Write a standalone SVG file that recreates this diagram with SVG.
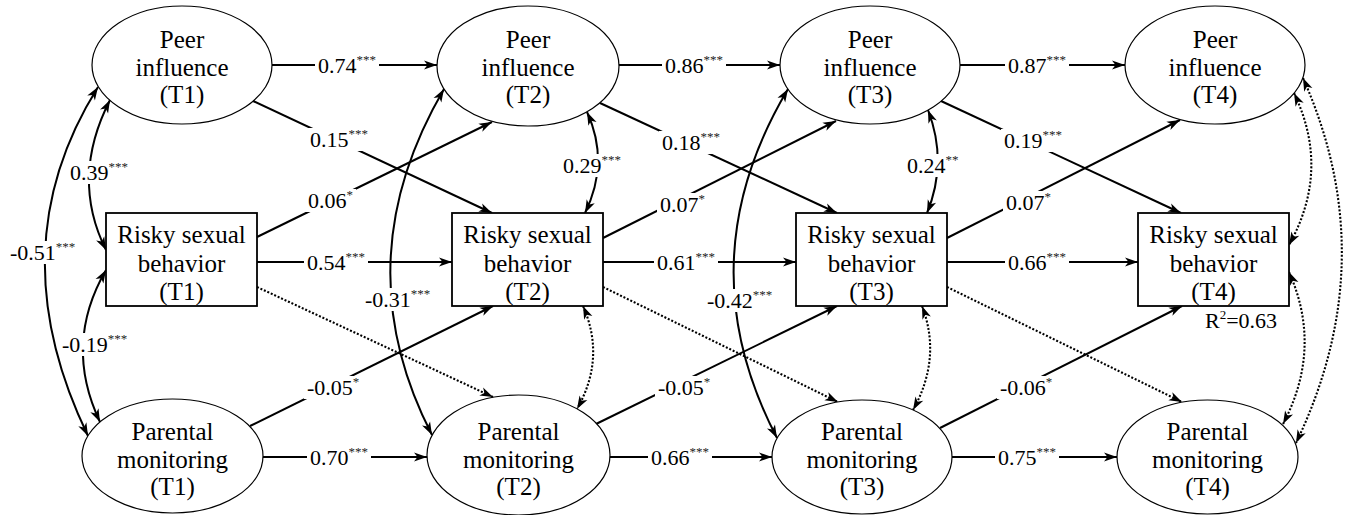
<svg xmlns="http://www.w3.org/2000/svg" width="1345" height="515" viewBox="0 0 1345 515" font-family="'Liberation Serif', 'Times New Roman', Times, 'DejaVu Serif', serif">
<style>
.nd ellipse{fill:#fff;stroke:#000;stroke-width:1.2}
.nd rect{fill:#fff;stroke:#000;stroke-width:1.8}
.nt{font-family:'Liberation Serif','Times New Roman',Times,'DejaVu Serif',serif;font-size:25px;text-anchor:middle;fill:#000}
.e{fill:none;stroke:#000;stroke-width:2;marker-end:url(#ah)}
.c{marker-start:url(#ah)}
.d{stroke-dasharray:2 1.8;stroke-width:2.1}
.bg{fill:#fff}
.lt{font-family:'Liberation Serif','Times New Roman',Times,'DejaVu Serif',serif;font-size:22px;fill:#000}
.sup{font-size:13px;fill:#222}
</style>
<defs>
<marker id="ah" viewBox="-14 -6 16 12" refX="0" refY="0" markerWidth="16" markerHeight="12" markerUnits="userSpaceOnUse" orient="auto-start-reverse">
<path d="M0,0 L-13,-4.5 L-9.5,0 L-13,4.5 Z" fill="#000"/>
</marker>
</defs>

<g id="connectors">
<path class="e" d="M272,65 H437"/>
<path class="e" d="M619,65 H780"/>
<path class="e" d="M960,65 H1125"/>
<path class="e" d="M257,262 H452"/>
<path class="e" d="M603,262 H796"/>
<path class="e" d="M947,262 H1138"/>
<path class="e" d="M263,457 H427"/>
<path class="e" d="M610,457 H772"/>
<path class="e" d="M952,457 H1117"/>
<path class="e" d="M253,101 L492,213"/>
<path class="e" d="M257,237 L492,122"/>
<path class="e" d="M250,426 L493,306"/>
<path class="e" d="M600,103 L837,213"/>
<path class="e" d="M603,238 L836,121"/>
<path class="e" d="M596,424 L837,306"/>
<path class="e" d="M941,101 L1181,213"/>
<path class="e" d="M947,238 L1180,120"/>
<path class="e" d="M940,428 L1182,306"/>
<path class="e d" d="M257,287 L493,397"/>
<path class="e d" d="M603,287 L838,402"/>
<path class="e d" d="M947,287 L1182,402"/>
<path class="e c" d="M98,87 Q-3,248 88,436"/>
<path class="e c" d="M110,100 Q70,178 106,250"/>
<path class="e c" d="M106,270 Q63,344 100,422"/>
<path class="e c" d="M444,89 Q343,262 432,435"/>
<path class="e c" d="M587,112 Q610,162 585,213"/>
<path class="e c d" d="M583,306 Q606,358 577,409"/>
<path class="e c" d="M788,89 Q685,262 777,438"/>
<path class="e c" d="M928,110 Q948,162 927,213"/>
<path class="e c d" d="M922,306 Q942,358 913,410"/>
<path class="e c d" d="M1294,93 Q1331,170 1289,245"/>
<path class="e c d" d="M1303,78 Q1384,260 1296,443"/>
<path class="e c d" d="M1289,272 Q1323,348 1283,424"/>

<rect class="bg" x="315" y="54" width="64" height="23"/><text class="lt" x="318" y="73">0.74<tspan class="sup" dy="-9">***</tspan></text>
<rect class="bg" x="662" y="54" width="64" height="23"/><text class="lt" x="665" y="73">0.86<tspan class="sup" dy="-9">***</tspan></text>
<rect class="bg" x="1005" y="54" width="64" height="23"/><text class="lt" x="1008" y="73">0.87<tspan class="sup" dy="-9">***</tspan></text>
<rect class="bg" x="304" y="251" width="64" height="23"/><text class="lt" x="307" y="270">0.54<tspan class="sup" dy="-9">***</tspan></text>
<rect class="bg" x="654" y="251" width="64" height="23"/><text class="lt" x="657" y="270">0.61<tspan class="sup" dy="-9">***</tspan></text>
<rect class="bg" x="1005" y="251" width="64" height="23"/><text class="lt" x="1008" y="270">0.66<tspan class="sup" dy="-9">***</tspan></text>
<rect class="bg" x="307" y="446" width="64" height="23"/><text class="lt" x="310" y="465">0.70<tspan class="sup" dy="-9">***</tspan></text>
<rect class="bg" x="648" y="446" width="64" height="23"/><text class="lt" x="651" y="465">0.66<tspan class="sup" dy="-9">***</tspan></text>
<rect class="bg" x="995" y="446" width="64" height="23"/><text class="lt" x="998" y="465">0.75<tspan class="sup" dy="-9">***</tspan></text>
<rect class="bg" x="307" y="128" width="64" height="23"/><text class="lt" x="310" y="147">0.15<tspan class="sup" dy="-9">***</tspan></text>
<rect class="bg" x="305" y="189" width="51" height="23"/><text class="lt" x="308" y="208">0.06<tspan class="sup" dy="-9">*</tspan></text>
<rect class="bg" x="304" y="376" width="58" height="23"/><text class="lt" x="307" y="395">-0.05<tspan class="sup" dy="-9">*</tspan></text>
<rect class="bg" x="659" y="131" width="64" height="23"/><text class="lt" x="662" y="150">0.18<tspan class="sup" dy="-9">***</tspan></text>
<rect class="bg" x="657" y="193" width="51" height="23"/><text class="lt" x="660" y="212">0.07<tspan class="sup" dy="-9">*</tspan></text>
<rect class="bg" x="655" y="376" width="58" height="23"/><text class="lt" x="658" y="395">-0.05<tspan class="sup" dy="-9">*</tspan></text>
<rect class="bg" x="1001" y="129" width="64" height="23"/><text class="lt" x="1004" y="148">0.19<tspan class="sup" dy="-9">***</tspan></text>
<rect class="bg" x="1003" y="191" width="51" height="23"/><text class="lt" x="1006" y="210">0.07<tspan class="sup" dy="-9">*</tspan></text>
<rect class="bg" x="997" y="376" width="58" height="23"/><text class="lt" x="1000" y="395">-0.06<tspan class="sup" dy="-9">*</tspan></text>
<rect class="bg" x="67" y="161" width="64" height="23"/><text class="lt" x="70" y="180">0.39<tspan class="sup" dy="-9">***</tspan></text>
<rect class="bg" x="7" y="241" width="71" height="23"/><text class="lt" x="10" y="260">-0.51<tspan class="sup" dy="-9">***</tspan></text>
<rect class="bg" x="59" y="333" width="71" height="23"/><text class="lt" x="62" y="352">-0.19<tspan class="sup" dy="-9">***</tspan></text>
<rect class="bg" x="362" y="288" width="71" height="23"/><text class="lt" x="365" y="307">-0.31<tspan class="sup" dy="-9">***</tspan></text>
<rect class="bg" x="560" y="154" width="64" height="23"/><text class="lt" x="563" y="173">0.29<tspan class="sup" dy="-9">***</tspan></text>
<rect class="bg" x="704" y="289" width="71" height="23"/><text class="lt" x="707" y="308">-0.42<tspan class="sup" dy="-9">***</tspan></text>
<rect class="bg" x="904" y="154" width="58" height="23"/><text class="lt" x="907" y="173">0.24<tspan class="sup" dy="-9">**</tspan></text>
<text class="lt" x="1205" y="328">R<tspan class="sup" dy="-9" style="fill:#000">2</tspan><tspan dy="9">=0.63</tspan></text>
</g>

<g id="peer_t1" class="nd"><ellipse cx="182" cy="65" rx="90" ry="59"/>
<text class="nt" x="182" y="48">Peer</text><text class="nt" x="182" y="76">influence</text><text class="nt" x="182" y="103">(T1)</text></g>
<g id="peer_t2" class="nd"><ellipse cx="528" cy="66" rx="91" ry="60"/>
<text class="nt" x="528" y="48">Peer</text><text class="nt" x="528" y="76">influence</text><text class="nt" x="528" y="103">(T2)</text></g>
<g id="peer_t3" class="nd"><ellipse cx="870" cy="65" rx="90" ry="59"/>
<text class="nt" x="870" y="48">Peer</text><text class="nt" x="870" y="76">influence</text><text class="nt" x="870" y="103">(T3)</text></g>
<g id="peer_t4" class="nd"><ellipse cx="1215" cy="65" rx="90" ry="59"/>
<text class="nt" x="1215" y="48">Peer</text><text class="nt" x="1215" y="76">influence</text><text class="nt" x="1215" y="103">(T4)</text></g>

<g id="risky_t1" class="nd"><rect x="106" y="213" width="151" height="93"/>
<text class="nt" x="181.5" y="243">Risky sexual</text><text class="nt" x="181.5" y="272">behavior</text><text class="nt" x="181.5" y="300">(T1)</text></g>
<g id="risky_t2" class="nd"><rect x="452" y="213" width="151" height="93"/>
<text class="nt" x="527.5" y="243">Risky sexual</text><text class="nt" x="527.5" y="272">behavior</text><text class="nt" x="527.5" y="300">(T2)</text></g>
<g id="risky_t3" class="nd"><rect x="796" y="213" width="151" height="93"/>
<text class="nt" x="871.5" y="243">Risky sexual</text><text class="nt" x="871.5" y="272">behavior</text><text class="nt" x="871.5" y="300">(T3)</text></g>
<g id="risky_t4" class="nd"><rect x="1138" y="213" width="151" height="93"/>
<text class="nt" x="1213.5" y="243">Risky sexual</text><text class="nt" x="1213.5" y="272">behavior</text><text class="nt" x="1213.5" y="300">(T4)</text></g>

<g id="parental_t1" class="nd"><ellipse cx="172.5" cy="456" rx="90.5" ry="57"/>
<text class="nt" x="172.5" y="440">Parental</text><text class="nt" x="172.5" y="468">monitoring</text><text class="nt" x="172.5" y="495">(T1)</text></g>
<g id="parental_t2" class="nd"><ellipse cx="518.5" cy="455" rx="91.5" ry="60"/>
<text class="nt" x="518.5" y="440">Parental</text><text class="nt" x="518.5" y="468">monitoring</text><text class="nt" x="518.5" y="495">(T2)</text></g>
<g id="parental_t3" class="nd"><ellipse cx="862" cy="457" rx="90" ry="57"/>
<text class="nt" x="862" y="440">Parental</text><text class="nt" x="862" y="468">monitoring</text><text class="nt" x="862" y="495">(T3)</text></g>
<g id="parental_t4" class="nd"><ellipse cx="1207.5" cy="457" rx="90.5" ry="57"/>
<text class="nt" x="1207.5" y="440">Parental</text><text class="nt" x="1207.5" y="468">monitoring</text><text class="nt" x="1207.5" y="495">(T4)</text></g>
</svg>
